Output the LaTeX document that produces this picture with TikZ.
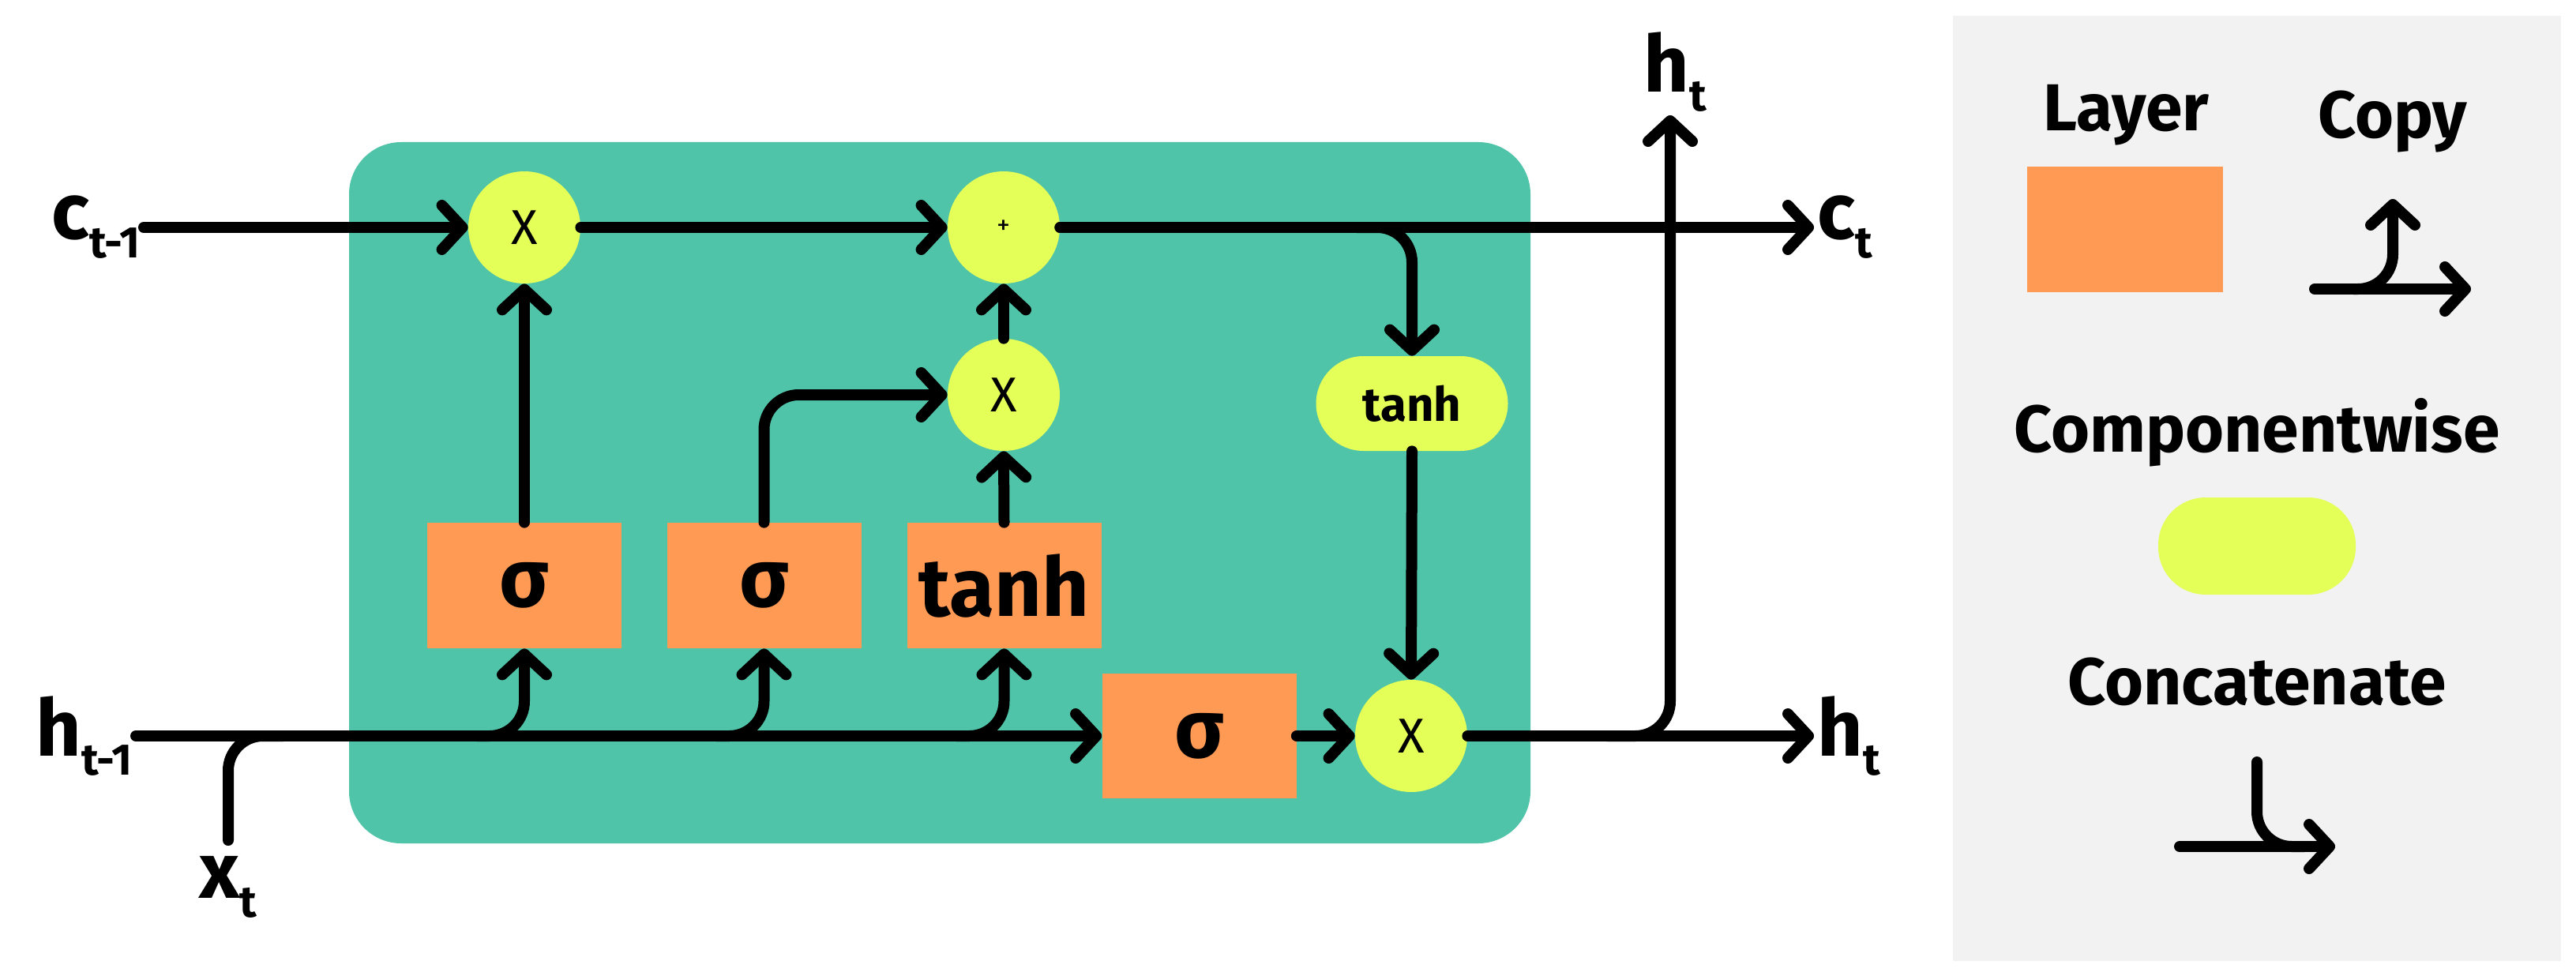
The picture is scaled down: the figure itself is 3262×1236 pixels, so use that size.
\documentclass[tikz,border=0pt]{standalone}
\usepackage{fontspec}
\setmainfont{Fira Sans}
\usetikzlibrary{arrows.meta,calc}
\definecolor{teal}{HTML}{4FC4A8}
\definecolor{yel}{HTML}{E4FF57}
\definecolor{ora}{HTML}{FF9A55}
\definecolor{pan}{HTML}{F2F2F2}
\newcommand{\fs}[1]{\fontsize{#1}{#1}\selectfont}
\begin{document}
\begin{tikzpicture}[x=0.5pt,y=-0.5pt,
  ln/.style={line width=7pt,line cap=round},
  arr/.style={ln,-{Straight Barb[length=13pt,width=28pt,line cap=round,round]}},
  rc/.style={rounded corners=22pt},
  circ/.style={circle,fill=yel,minimum size=71pt,inner sep=0pt,font=\fs{31}},
  layer/.style={rectangle,fill=ora,minimum width=123pt,minimum height=79.5pt,inner sep=0pt,font=\fs{52}\bfseries},
  lab/.style={inner sep=2pt,font=\fs{50}\bfseries},
  leg/.style={font=\fs{42}\bfseries,inner sep=0pt}]
\useasboundingbox (0,0) rectangle (3262,1236);
\fill[white] (0,0) rectangle (3262,1236);
% legend panel
\fill[pan] (2473,20) rectangle (3243,1217);
% cell
\fill[teal,rounded corners=33pt] (442,180) rectangle (1938,1068);
% coordinates
\coordinate (cin) at (182,288);
\coordinate (cout) at (2297,288);
\coordinate (hin) at (172,932);
\coordinate (hout) at (2297,932);
\coordinate (htop) at (2115,146);
\coordinate (xin) at (289,1064);
% nodes
\node[circ] (X1) at (664,288) {X};
\node[circ,font=\fs{17}] (P) at (1271,288) {+};
\node[circ] (X2) at (1271,500) {X};
\node[circ] (X3) at (1787,932) {X};
\node[layer] (s1) at (664,741.5) {σ};
\node[layer] (s2) at (967.5,741.5) {σ};
\node[layer] (tb) at (1271.5,741.5) {tanh};
\node[layer,minimum height=79pt] (s4) at (1518.5,932) {σ};
\node[rectangle,rounded corners=30pt,fill=yel,minimum width=121.5pt,minimum height=60pt,inner sep=0pt,font=\fs{30}\bfseries] (tp) at (1788,511) {tanh};
% labels
\node[lab,anchor=east] (lc) at (cin) {c\raisebox{-0.45ex}{\fs{28}t-1}};
\node[lab,anchor=east] (lh) at (hin) {h\raisebox{-0.45ex}{\fs{28}t-1}};
\node[lab,anchor=west] (lct) at (cout) {c\raisebox{-0.45ex}{\fs{28}t}};
\node[lab,anchor=west] (lht) at (hout) {h\raisebox{-0.45ex}{\fs{28}t}};
\node[lab,anchor=south] (lhtop) at ([xshift=3pt]htop) {h\raisebox{-0.45ex}{\fs{28}t}};
\node[lab,anchor=north] (lx) at ([yshift=-8pt]xin) {x\raisebox{-0.45ex}{\fs{28}t}};
% connectors
\draw[arr] (cin) -- (X1.west);
\draw[arr] (X1.east) -- (P.west);
\draw[ln] (P.east) -- ($(cout)+(-20,0)$);
\draw[arr] (P.east) -- (cout);
\draw[arr,rc] ($(tp.north |- cin)+(-70,0)$) -| (tp.north);
\draw[arr] (tp.south) -- (X3.north);
\draw[arr] (s1.north) -- (X1.south);
\draw[arr,rc] (s2.north) |- (X2.west);
\draw[arr] (tb.north) -- (X2.south);
\draw[arr] (X2.north) -- (P.south);
\draw[arr] (hin) -- (s4.west);
\draw[arr,rc] ($(s1.south |- hin)+(-60,0)$) -| (s1.south);
\draw[arr,rc] ($(s2.south |- hin)+(-60,0)$) -| (s2.south);
\draw[arr,rc] ($(tb.south |- hin)+(-60,0)$) -| (tb.south);
\draw[ln,rc] (xin) |- ($(xin |- hin)+(70,0)$);
\draw[arr] (s4.east) -- (X3.west);
\draw[arr] (X3.east) -- (hout);
\draw[arr,rc] ($(htop |- hout)+(-80,0)$) -| (htop);
% legend
\node[leg] (tl) at (2692,146) {Layer};
\node[rectangle,fill=ora,minimum width=124pt,minimum height=79.5pt,inner sep=0pt] (ls) at (2691,290.5) {};
\node[leg] (tc) at (3030,154) {Copy};
\coordinate (ca) at (2931,366);
\coordinate (cb) at (3129,366);
\coordinate (cu) at (3030,252);
\draw[arr] (ca) -- (cb);
\draw[arr,rc] ($(cu |- ca)+(-50,0)$) -| (cu);
\node[leg] (tw) at (2858,548) {Componentwise};
\node[rectangle,rounded corners=30pt,fill=yel,minimum width=125pt,minimum height=61.5pt,inner sep=0pt] (lp) at (2858,691.5) {};
\node[leg] (tn) at (2858,863) {Concatenate};
\coordinate (na) at (2760,1072);
\coordinate (nb) at (2957,1072);
\coordinate (nu) at (2858,965);
\draw[arr] (na) -- (nb);
\draw[ln,rc] (nu) |- ($(nu |- na)+(60,0)$);
\end{tikzpicture}
\end{document}
